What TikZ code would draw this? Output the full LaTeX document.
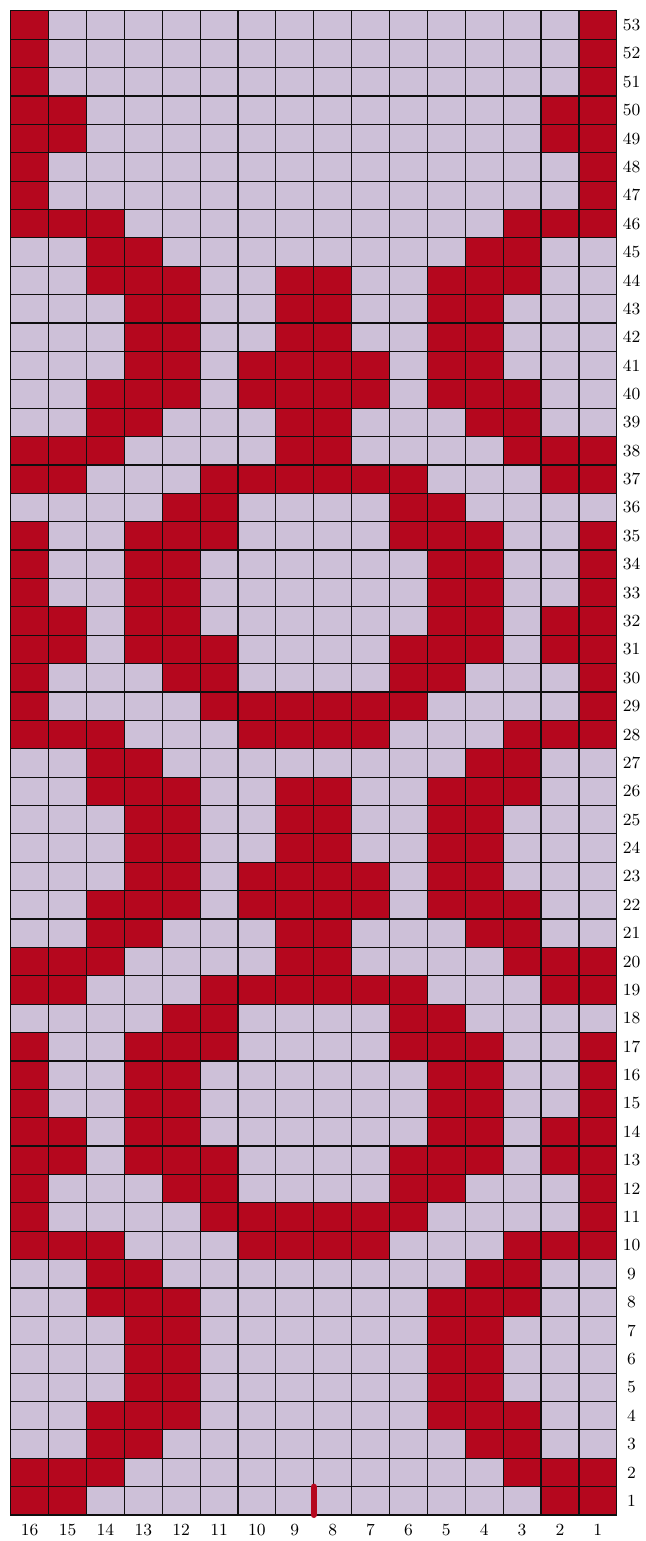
\documentclass[tikz,border=0pt]{standalone}
\usepackage{tikz}
\definecolor{chartred}{RGB}{181,7,30}
\definecolor{chartlilac}{RGB}{205,192,216}
\definecolor{gridink}{RGB}{15,15,15}

\begin{document}
\begin{tikzpicture}[
  x=18.94pt,y=14.19pt,
  font=\fontsize{8.5}{10}\selectfont,
  redcell/.style={fill=chartred},
  gridrule/.style={draw=gridink,line width=0.6pt},
  rownum/.style={anchor=center,inner sep=0pt},
  colnum/.style={anchor=center,inner sep=0pt},
  startmark/.style={draw=chartred,line width=3pt,line cap=round}
]
\useasboundingbox (-0.2825,-0.916) rectangle (16.747,53.383);

% Background stitches.
\fill[chartlilac] (0,0) rectangle (16,53);

% -------------------------------------------------------------------------
% Contrast stitches: row / positions counted from the left edge.
% -------------------------------------------------------------------------
\foreach \r/\cells in {
  53/{1,16}, 52/{1,16}, 51/{1,16},
  50/{1,2,15,16}, 49/{1,2,15,16},
  48/{1,16}, 47/{1,16},
  46/{1,2,3,14,15,16},
  45/{3,4,13,14},
  44/{3,4,5,8,9,12,13,14},
  43/{4,5,8,9,12,13}, 42/{4,5,8,9,12,13},
  41/{4,5,7,8,9,10,12,13},
  40/{3,4,5,7,8,9,10,12,13,14},
  39/{3,4,8,9,13,14},
  38/{1,2,3,8,9,14,15,16},
  37/{1,2,6,7,8,9,10,11,15,16},
  36/{5,6,11,12},
  35/{1,4,5,6,11,12,13,16},
  34/{1,4,5,12,13,16}, 33/{1,4,5,12,13,16},
  32/{1,2,4,5,12,13,15,16},
  31/{1,2,4,5,6,11,12,13,15,16},
  30/{1,5,6,11,12,16},
  29/{1,6,7,8,9,10,11,16},
  28/{1,2,3,7,8,9,10,14,15,16},
  27/{3,4,13,14},
  26/{3,4,5,8,9,12,13,14},
  25/{4,5,8,9,12,13}, 24/{4,5,8,9,12,13},
  23/{4,5,7,8,9,10,12,13},
  22/{3,4,5,7,8,9,10,12,13,14},
  21/{3,4,8,9,13,14},
  20/{1,2,3,8,9,14,15,16},
  19/{1,2,6,7,8,9,10,11,15,16},
  18/{5,6,11,12},
  17/{1,4,5,6,11,12,13,16},
  16/{1,4,5,12,13,16}, 15/{1,4,5,12,13,16},
  14/{1,2,4,5,12,13,15,16},
  13/{1,2,4,5,6,11,12,13,15,16},
  12/{1,5,6,11,12,16},
  11/{1,6,7,8,9,10,11,16},
  10/{1,2,3,7,8,9,10,14,15,16},
  9/{3,4,13,14},
  8/{3,4,5,12,13,14},
  7/{4,5,12,13}, 6/{4,5,12,13}, 5/{4,5,12,13},
  4/{3,4,5,12,13,14},
  3/{3,4,13,14},
  2/{1,2,3,14,15,16},
  1/{1,2,15,16}}
  {\foreach \p in \cells {\fill[redcell] (\p-1,\r-1) rectangle (\p,\r);}}

% Cell rules.
\draw[gridrule,step=1] (0,0) grid (16,53);
\draw[gridrule] (0,0) rectangle (16,53);

% Row numbers on the right, stitch numbers below.
\foreach \r in {1,...,53}
  {\node[rownum] (row\r) at (16.39,\r-0.5) {\r};}
\foreach \c in {1,...,16}
  {\node[colnum] (col\c) at (16.5-\c,-0.53) {\c};}

% Start marker between stitches 9 and 8.
\draw[startmark] (8,0) -- (8,1);
\end{tikzpicture}
\end{document}
